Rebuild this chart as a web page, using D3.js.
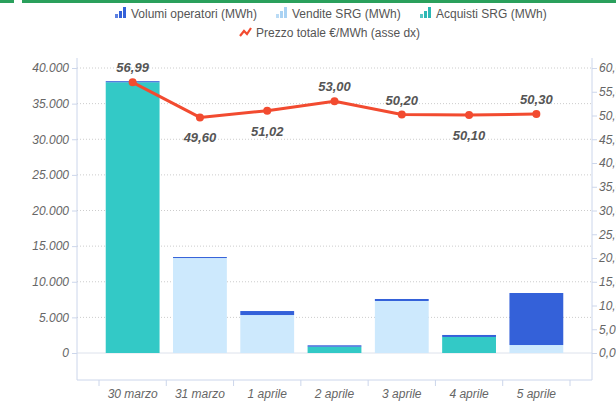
<!DOCTYPE html>
<html>
<head>
<meta charset="utf-8">
<script src="https://cdn.jsdelivr.net/npm/d3@7"></script>
<style>
  body{margin:0;background:#fff;}
  svg{display:block;font-family:"Liberation Sans",Arial,sans-serif;}
  .tick text{font-style:italic;fill:#666;font-size:12px;}
</style>
</head>
<body>
<svg id="chart" width="616" height="403"></svg>
<script>
const days = ["30 marzo","31 marzo","1 aprile","2 aprile","3 aprile","4 aprile","5 aprile"];
const volumi = [150, 140, 560, 200, 280, 280, 7300];
const vendite = [0, 13330, 5330, 0, 7300, 0, 1120];
const acquisti = [38000, 0, 0, 880, 0, 2250, 0];
const prezzo = [56.99, 49.60, 51.02, 53.00, 50.20, 50.10, 50.30];
const labelBelow = [false, true, true, false, false, true, false];

const it = d3.formatLocale({decimal:",", thousands:".", grouping:[3], currency:["€",""]});
const fmtL = it.format(",.0f"), fmtR = it.format(",.2f");

const svg = d3.select("#chart");
const axisCol = "#ccd6eb";

// green strip on top
svg.append("rect").attr("x",0).attr("y",0).attr("width",14).attr("height",3).attr("fill","#2aa05c");
svg.append("rect").attr("x",22).attr("y",0).attr("width",594).attr("height",3).attr("fill","#2aa05c");

const x = d3.scaleBand().domain(days).range([99,570]).paddingInner(0.2).paddingOuter(0.1);
const yL = d3.scaleLinear().domain([0,40000]).range([353,68]);
const yR = d3.scaleLinear().domain([0,60]).range([353,68]);

// grid
svg.append("g").selectAll("line").data(yL.ticks(8)).join("line")
  .attr("x1",77).attr("x2",592).attr("y1",d=>yL(d)).attr("y2",d=>yL(d))
  .attr("stroke",d=>d===0?"#dde2ec":"#ccc").attr("stroke-dasharray",d=>d===0?null:"1,2");

// frame lines
svg.append("line").attr("x1",77).attr("x2",77).attr("y1",58).attr("y2",380).attr("stroke",axisCol);
svg.append("line").attr("x1",592).attr("x2",592).attr("y1",58).attr("y2",380).attr("stroke",axisCol);
svg.append("line").attr("x1",77).attr("x2",592).attr("y1",380).attr("y2",380).attr("stroke",axisCol);

// axes
const gL = svg.append("g").attr("transform","translate(77,0)")
  .call(d3.axisLeft(yL).tickValues(d3.range(0,40001,5000)).tickFormat(fmtL).tickSize(5).tickPadding(3));
const gR = svg.append("g").attr("transform","translate(592,0)")
  .call(d3.axisRight(yR).tickValues(d3.range(0,61,5)).tickFormat(fmtR).tickSize(5).tickPadding(2));
[gL,gR].forEach(g=>{
  g.select(".domain").remove();
  g.selectAll(".tick line").attr("stroke",axisCol);
});

const gX = svg.append("g").attr("transform","translate(0,380)")
  .call(d3.axisBottom(x).tickSize(0).tickPadding(9));
gX.select(".domain").remove();
const bounds = days.map(d=>x(d)-x.step()*x.paddingInner()/2).concat([x(days[6])+x.bandwidth()+x.step()*x.paddingInner()/2]);
svg.append("g").selectAll("line").data(bounds).join("line")
  .attr("x1",d=>d).attr("x2",d=>d).attr("y1",380).attr("y2",386).attr("stroke",axisCol);

// stacked bars
const rows = days.map((d,i)=>({day:d, acquisti:acquisti[i], vendite:vendite[i], volumi:volumi[i]}));
const keys = ["acquisti","vendite","volumi"];
const colors = {acquisti:"#33c9c6", vendite:"#cde9fd", volumi:"#3461d9"};
const series = d3.stack().keys(keys)(rows);
svg.append("g").selectAll("g").data(series).join("g")
  .attr("fill",s=>colors[s.key])
  .selectAll("rect").data(s=>s.filter(p=>p[1]>p[0])).join("rect")
  .attr("x",p=>x(p.data.day)).attr("width",x.bandwidth())
  .attr("y",p=>yL(p[1])).attr("height",p=>yL(p[0])-yL(p[1]));

// price line
const line = d3.line().x((d,i)=>x(days[i])+x.bandwidth()/2).y(d=>yR(d));
svg.append("path").datum(prezzo).attr("d",line)
  .attr("fill","none").attr("stroke","#f24b30").attr("stroke-width",3).attr("stroke-linejoin","round");
svg.append("g").selectAll("circle").data(prezzo).join("circle")
  .attr("cx",(d,i)=>x(days[i])+x.bandwidth()/2).attr("cy",d=>yR(d)).attr("r",4).attr("fill","#f24b30");
svg.append("g").selectAll("text").data(prezzo).join("text")
  .attr("x",(d,i)=>x(days[i])+x.bandwidth()/2)
  .attr("y",(d,i)=>labelBelow[i]?yR(d)+25:yR(d)-10)
  .attr("text-anchor","middle").attr("font-size",13).attr("font-weight","bold").attr("font-style","italic")
  .attr("fill","#555").text(d=>fmtR(d));

// legend
const legend = [
  {name:"Volumi operatori (MWh)", color:"#3461d9", x:115, y:18},
  {name:"Vendite SRG (MWh)", color:"#a9d2f3", x:276, y:18},
  {name:"Acquisti SRG (MWh)", color:"#2bb8b5", x:420, y:18},
  {name:"Prezzo totale €/MWh (asse dx)", color:"#f24b30", x:240, y:37, line:true}
];
const lg = svg.append("g").selectAll("g").data(legend).join("g")
  .attr("transform",d=>`translate(${d.x},${d.y})`);
lg.each(function(d){
  const g = d3.select(this);
  if(d.line){
    g.append("path").attr("d","M0,-1 L4,-6 L7,-3 L11,-9").attr("fill","none")
      .attr("stroke",d.color).attr("stroke-width",2.2);
  } else {
    [[0,4],[4,7],[8,11]].forEach(([dx,h],k)=>{
      g.append("rect").attr("x",dx).attr("y",-h).attr("width",3).attr("height",h)
        .attr("fill",d.color).attr("opacity",k===0?0.8:1);
    });
  }
  g.append("text").attr("x",16).attr("y",0).attr("font-size",12).attr("fill","#555").text(d.name);
});
</script>
</body>
</html>
